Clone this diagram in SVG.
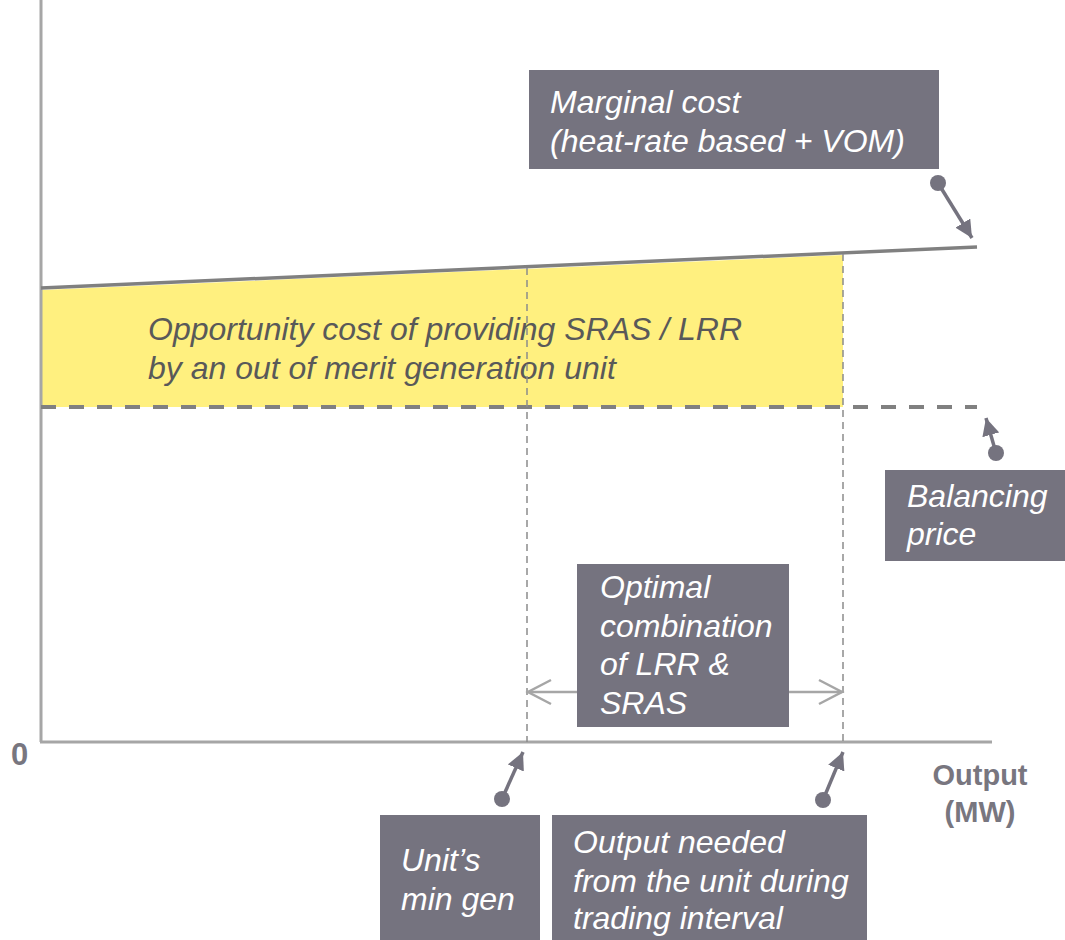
<svg xmlns="http://www.w3.org/2000/svg" width="1065" height="940" viewBox="0 0 1065 940">
<style>
.box{fill:#75737f}
.bt{font-family:"Liberation Sans",Arial,sans-serif;font-style:italic;font-size:32px;fill:#ffffff}
.yt{font-family:"Liberation Sans",Arial,sans-serif;font-style:italic;font-size:32px;fill:#595959}
.ax{font-family:"Liberation Sans",Arial,sans-serif;font-weight:bold;font-size:29px;fill:#78767f}
.axis{stroke:#a6a6a6;stroke-width:3;fill:none}
.ptr{stroke:#75737f;stroke-width:3.5;fill:none}
.dot{fill:#75737f}
.vdash{stroke:#8c8c8c;stroke-width:1.5;stroke-dasharray:7 5;fill:none}
</style>
<defs>
<marker id="tri" viewBox="0 0 10 10" refX="10" refY="5" markerWidth="5" markerHeight="5" orient="auto" markerUnits="strokeWidth">
<path d="M0,0 L10,5 L0,10 z" fill="#75737f"/>
</marker>
</defs>
<g id="chart">
<polygon points="42,290 843,255 843,407 42,407" fill="#fff07f"/>
<line class="axis" x1="41" y1="0" x2="41" y2="742"/>
<line class="axis" x1="40" y1="742" x2="992" y2="742"/>
<line x1="41" y1="288" x2="977" y2="247" stroke="#808080" stroke-width="3.5"/>
<line x1="41" y1="407" x2="977" y2="407" stroke="#808080" stroke-width="4" stroke-dasharray="15 13"/>
<text class="yt" x="148" y="340">Opportunity cost of providing SRAS / LRR</text>
<text class="yt" x="148" y="379">by an out of merit generation unit</text>
<text class="ax" x="11" y="765" style="font-size:31px">0</text>
<text class="ax" x="980" y="785" text-anchor="middle">Output</text>
<text class="ax" x="980" y="822" text-anchor="middle">(MW)</text>
</g>
<g id="connectors">
<line class="vdash" x1="527" y1="268" x2="527" y2="742"/>
<line class="vdash" x1="843" y1="254" x2="843" y2="742"/>
<line x1="528" y1="692" x2="842" y2="692" stroke="#a6a6a6" stroke-width="2.5"/>
<polyline points="551,680 528,692 551,704" stroke="#a6a6a6" stroke-width="2.5" fill="none"/>
<polyline points="819,680 842,692 819,704" stroke="#a6a6a6" stroke-width="2.5" fill="none"/>
<line class="ptr" x1="938" y1="183" x2="972" y2="238" marker-end="url(#tri)"/>
<circle class="dot" cx="938" cy="183" r="8"/>
<line class="ptr" x1="996" y1="453" x2="986" y2="418" marker-end="url(#tri)"/>
<circle class="dot" cx="996" cy="453" r="8"/>
<line class="ptr" x1="502" y1="799" x2="523" y2="752" marker-end="url(#tri)"/>
<circle class="dot" cx="502" cy="799" r="8"/>
<line class="ptr" x1="823" y1="800" x2="843" y2="752" marker-end="url(#tri)"/>
<circle class="dot" cx="823" cy="800" r="8"/>
</g>
<g id="marginal-cost">
<rect class="box" x="529" y="70" width="410" height="99"/>
<text class="bt" x="550" y="113">Marginal cost</text>
<text class="bt" x="550" y="152">(heat-rate based + VOM)</text>
</g>
<g id="balancing-price">
<rect class="box" x="885" y="470" width="180" height="91"/>
<text class="bt" x="907" y="507">Balancing</text>
<text class="bt" x="907" y="545">price</text>
</g>
<g id="optimal-combination">
<rect class="box" x="577" y="564" width="212" height="163"/>
<text class="bt" x="600" y="598">Optimal</text>
<text class="bt" x="600" y="637">combination</text>
<text class="bt" x="600" y="675">of LRR &amp;</text>
<text class="bt" x="600" y="714">SRAS</text>
</g>
<g id="min-gen">
<rect class="box" x="380" y="815" width="160" height="125"/>
<text class="bt" x="401" y="871">Unit’s</text>
<text class="bt" x="401" y="910">min gen</text>
</g>
<g id="output-needed">
<rect class="box" x="552" y="815" width="315" height="125"/>
<text class="bt" x="573" y="853">Output needed</text>
<text class="bt" x="573" y="892">from the unit during</text>
<text class="bt" x="573" y="929">trading interval</text>
</g>
</svg>
